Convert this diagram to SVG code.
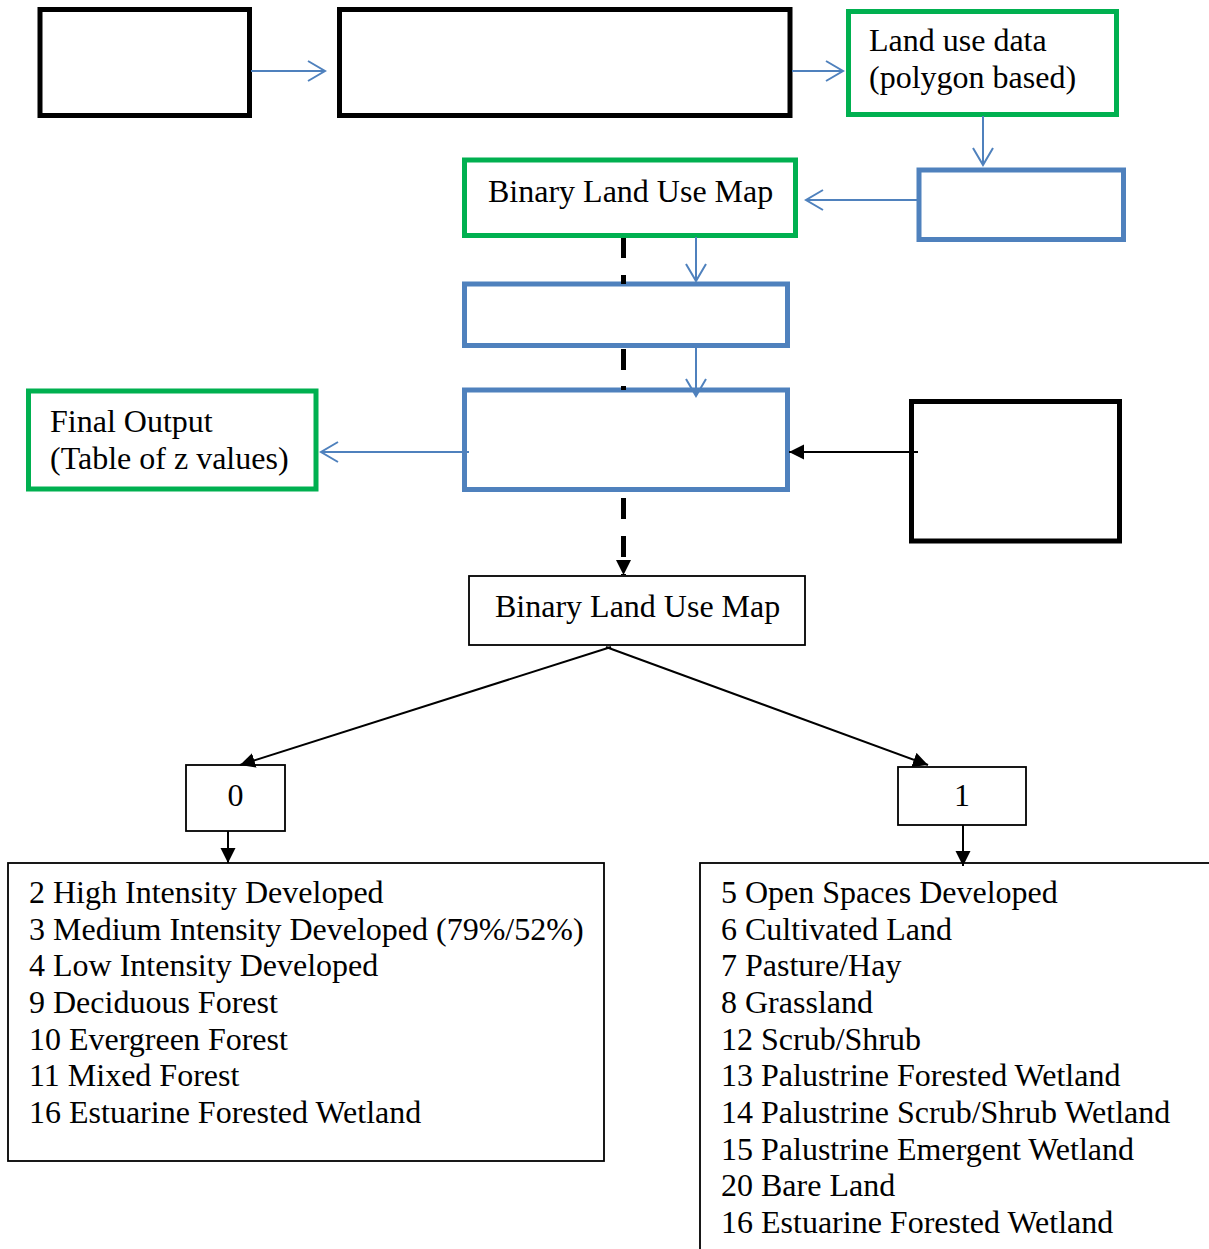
<svg xmlns="http://www.w3.org/2000/svg" width="1209" height="1249" viewBox="0 0 1209 1249">
  <style>
    .thick { fill: #fff; stroke: #000; stroke-width: 5; }
    .green { fill: #fff; stroke: #00B050; stroke-width: 5; }
    .blue  { fill: #fff; stroke: #4F81BD; stroke-width: 5; }
    .thin  { fill: #fff; stroke: #000; stroke-width: 1.8; }
    .lbl   { font-family: "Liberation Serif", "Times New Roman", serif; font-size: 32px; fill: #000; }
    .flow  { fill: none; stroke: #4F81BD; stroke-width: 2; marker-end: url(#open); }
    .link  { fill: none; stroke: #000; stroke-width: 2; marker-end: url(#solid); }
    .dash  { fill: none; stroke: #000; stroke-width: 5; }
  </style>
  <defs>
    <marker id="open" viewBox="-19 -12 21 24" refX="0" refY="0" markerWidth="21" markerHeight="24" markerUnits="userSpaceOnUse" orient="auto">
      <path d="M-17,-10 L0,0 L-17,10" fill="none" stroke="#4F81BD" stroke-width="2"/>
    </marker>
    <marker id="solid" viewBox="-15 -8 16 16" refX="0" refY="0" markerWidth="16" markerHeight="16" markerUnits="userSpaceOnUse" orient="auto">
      <path d="M-15,-7.5 L0,0 L-15,7.5 Z" fill="#000"/>
    </marker>
  </defs>

  <rect width="1209" height="1249" fill="#fff"/>

  <!-- nodes -->
  <g id="nodes">
    <g id="n-source"><rect class="thick" x="40" y="9.5" width="209.5" height="106"/></g>
    <g id="n-process"><rect class="thick" x="339.5" y="9.5" width="450.5" height="106"/></g>
    <g id="n-landuse">
      <rect class="green" x="848.5" y="11.5" width="268" height="103"/>
      <text class="lbl" x="869" y="51">Land use data</text>
      <text class="lbl" x="869" y="88">(polygon based)</text>
    </g>
    <g id="n-convert"><rect class="blue" x="919" y="170" width="204.5" height="69.5"/></g>
    <g id="n-binary">
      <rect class="green" x="464.5" y="160" width="331" height="75.5"/>
      <text class="lbl" x="488" y="202">Binary Land Use Map</text>
    </g>
    <g id="n-step2"><rect class="blue" x="464.5" y="284" width="323" height="61.5"/></g>
    <g id="n-step3"><rect class="blue" x="464.5" y="390" width="323" height="99.5"/></g>
    <g id="n-final">
      <rect class="green" x="28.5" y="391" width="287.5" height="98"/>
      <text class="lbl" x="50" y="432">Final Output</text>
      <text class="lbl" x="50" y="469">(Table of z values)</text>
    </g>
    <g id="n-input"><rect class="thick" x="911.5" y="401.5" width="208" height="139.5"/></g>
    <g id="n-binary2">
      <rect class="thin" x="469" y="576" width="336" height="69"/>
      <text class="lbl" x="495" y="617">Binary Land Use Map</text>
    </g>
    <g id="n-zero">
      <rect class="thin" x="186" y="765" width="99" height="66"/>
      <text class="lbl" x="235.5" y="806" text-anchor="middle">0</text>
    </g>
    <g id="n-one">
      <rect class="thin" x="898" y="767" width="128" height="58"/>
      <text class="lbl" x="962" y="806" text-anchor="middle">1</text>
    </g>
    <g id="n-class0">
      <rect class="thin" x="8" y="863" width="596" height="298"/>
      <text class="lbl" x="29" y="903">2 High Intensity Developed</text>
      <text class="lbl" x="29" y="939.7">3 Medium Intensity Developed (79%/52%)</text>
      <text class="lbl" x="29" y="976.3">4 Low Intensity Developed</text>
      <text class="lbl" x="29" y="1013">9 Deciduous Forest</text>
      <text class="lbl" x="29" y="1049.7">10 Evergreen Forest</text>
      <text class="lbl" x="29" y="1086.3">11 Mixed Forest</text>
      <text class="lbl" x="29" y="1123">16 Estuarine Forested Wetland</text>
    </g>
    <g id="n-class1">
      <rect class="thin" x="700" y="863" width="600" height="500"/>
      <text class="lbl" x="721" y="903">5 Open Spaces Developed</text>
      <text class="lbl" x="721" y="939.7">6 Cultivated Land</text>
      <text class="lbl" x="721" y="976.3">7 Pasture/Hay</text>
      <text class="lbl" x="721" y="1013">8 Grassland</text>
      <text class="lbl" x="721" y="1049.7">12 Scrub/Shrub</text>
      <text class="lbl" x="721" y="1086.3">13 Palustrine Forested Wetland</text>
      <text class="lbl" x="721" y="1123">14 Palustrine Scrub/Shrub Wetland</text>
      <text class="lbl" x="721" y="1159.7">15 Palustrine Emergent Wetland</text>
      <text class="lbl" x="721" y="1196.3">20 Bare Land</text>
      <text class="lbl" x="721" y="1233">16 Estuarine Forested Wetland</text>
    </g>
  </g>

  <!-- connectors -->
  <g id="connectors">
    <path class="flow" d="M251,71 H325"/>
    <path class="flow" d="M792,71 H843"/>
    <path class="flow" d="M983,116 V165"/>
    <path class="flow" d="M918,200 H806"/>
    <path class="flow" d="M696,237 V281"/>
    <path class="flow" d="M696,347 V396"/>
    <path class="flow" d="M469,452 H321"/>
    <path class="link" d="M918,452 H789"/>
    <!-- dashed trunk, broken where it passes behind the blue boxes -->
    <path class="dash" d="M623.5,238 V284" stroke-dasharray="20 17"/>
    <path class="dash" d="M623.5,349 V390" stroke-dasharray="21 16"/>
    <path class="dash" d="M623.5,498 V575" stroke-dasharray="21 17" marker-end="url(#solid)"/>
    <path class="link" d="M611,647 L240,765"/>
    <path class="link" d="M606,647 L928,765"/>
    <path class="link" d="M228,831 V863"/>
    <path class="link" d="M963,825 V866"/>
  </g>
</svg>
